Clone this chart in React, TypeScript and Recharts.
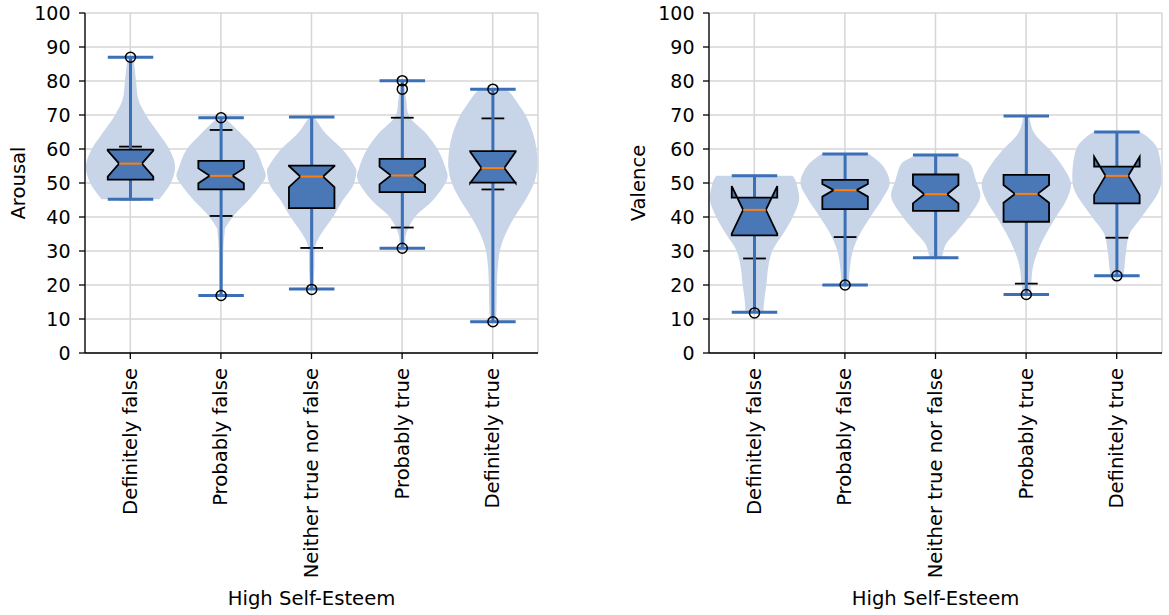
import React from 'react';
import { ComposedChart, Bar, XAxis, YAxis, CartesianGrid, Label } from 'recharts';

const categories = ['Definitely false', 'Probably false', 'Neither true nor false', 'Probably true', 'Definitely true'];
const yTicks = [0, 10, 20, 30, 40, 50, 60, 70, 80, 90, 100];

// Arousal panel
const arousalMin = [45.2, 16.9, 18.8, 30.8, 9.2];
const arousalMax = [87.0, 69.2, 69.4, 80.1, 77.6];
const arousalWhiskerLo = [45.2, 40.3, 30.9, 36.9, 48.1];
const arousalWhiskerHi = [60.7, 65.6, 69.4, 69.2, 69.0];
const arousalQ1 = [51.0, 48.1, 42.6, 47.3, 50.1];
const arousalQ3 = [59.8, 56.5, 55.1, 57.1, 59.4];
const arousalMedian = [55.7, 52.1, 51.9, 52.2, 54.4];
const arousalNotchLo = [51.9, 49.9, 48.8, 49.6, 50.0];
const arousalNotchHi = [59.5, 54.3, 55.0, 54.8, 59.2];
const arousalOutliers = [[87.0], [69.2, 16.9], [18.7], [80.1, 77.6, 30.8], [77.6, 9.2]];
// violin density: [value, relative density]
const arousalViolin = [
  [[87.0, 0.06], [84.2, 0.09], [79.3, 0.13], [74.4, 0.18], [69.5, 0.37], [64.6, 0.63], [59.7, 0.88], [54.8, 1.0], [49.9, 0.9], [45.2, 0.65]],
  [[69.2, 0.06], [68.5, 0.13], [64.6, 0.44], [59.7, 0.78], [54.8, 0.94], [51.9, 1.0], [48.9, 0.86], [45.0, 0.62], [41.1, 0.33], [37.1, 0.11], [35.2, 0.08], [30.0, 0.05], [16.9, 0.04]],
  [[69.4, 0.04], [68.5, 0.1], [64.6, 0.31], [59.7, 0.7], [55.0, 0.96], [53.0, 1.0], [49.0, 0.92], [45.0, 0.7], [40.1, 0.48], [35.2, 0.22], [31.2, 0.08], [25.0, 0.06], [18.8, 0.04]],
  [[80.1, 0.04], [77.6, 0.06], [74.4, 0.09], [69.5, 0.16], [64.6, 0.53], [59.7, 0.8], [54.8, 0.96], [50.9, 1.0], [45.0, 0.69], [40.1, 0.29], [35.2, 0.09], [30.8, 0.06]],
  [[77.6, 0.3], [76.0, 0.42], [73.0, 0.58], [69.5, 0.75], [64.6, 0.9], [59.7, 0.98], [54.8, 1.0], [49.9, 0.92], [45.0, 0.73], [40.1, 0.49], [35.2, 0.29], [30.3, 0.16], [25.4, 0.11], [20.5, 0.09], [12.7, 0.08], [9.2, 0.06]],
];

// Valence panel
const valenceMin = [12.0, 20.0, 28.0, 17.2, 22.7];
const valenceMax = [52.1, 58.5, 58.2, 69.7, 65.0];
const valenceWhiskerLo = [27.8, 34.1, 28.0, 20.4, 33.9];
const valenceWhiskerHi = [52.1, 58.5, 58.2, 69.7, 65.0];
const valenceQ1 = [34.6, 42.3, 41.8, 38.6, 44.0];
const valenceQ3 = [45.7, 50.9, 52.5, 52.4, 54.8];
const valenceMedian = [42.1, 47.9, 46.7, 46.8, 52.1];
const valenceNotchLo = [35.1, 46.0, 44.0, 44.2, 46.5];
const valenceNotchHi = [49.1, 49.7, 49.4, 49.4, 57.7];
const valenceOutliers = [[11.8], [20.0], [], [17.2], [22.7]];
const valenceViolin = [
  [[52.1, 0.86], [49.9, 0.94], [45.0, 1.0], [40.1, 0.86], [35.2, 0.65], [30.3, 0.41], [25.4, 0.31], [20.5, 0.27], [15.6, 0.22], [12.0, 0.2]],
  [[58.5, 0.54], [54.8, 0.86], [49.9, 1.0], [45.0, 0.82], [40.1, 0.57], [35.2, 0.34], [30.3, 0.18], [25.4, 0.11], [20.0, 0.08]],
  [[58.2, 0.4], [57.3, 0.58], [55.5, 0.78], [50.9, 0.9], [46.0, 1.0], [41.1, 0.8], [36.2, 0.5], [32.3, 0.24], [29.3, 0.16], [28.0, 0.14]],
  [[69.7, 0.06], [64.6, 0.18], [59.7, 0.53], [54.8, 0.82], [49.9, 1.0], [45.0, 0.9], [40.1, 0.67], [35.2, 0.45], [30.3, 0.27], [25.4, 0.15], [20.5, 0.11], [17.2, 0.08]],
  [[65.0, 0.52], [63.5, 0.69], [59.7, 0.92], [51.9, 1.0], [47.0, 0.92], [40.1, 0.56], [35.2, 0.29], [30.3, 0.21], [25.4, 0.17], [22.7, 0.15]],
];

const buildRows = (mins, maxs, wlo, whi, q1, q3, med, nlo, nhi, outs, violin) =>
  categories.map((name, i) => ({
    name,
    min: mins[i],
    max: maxs[i],
    whiskerLo: wlo[i],
    whiskerHi: whi[i],
    q1: q1[i],
    q3: q3[i],
    median: med[i],
    notchLo: nlo[i],
    notchHi: nhi[i],
    outliers: outs[i],
    violin: violin[i],
  }));

const arousalRows = buildRows(arousalMin, arousalMax, arousalWhiskerLo, arousalWhiskerHi, arousalQ1, arousalQ3,
  arousalMedian, arousalNotchLo, arousalNotchHi, arousalOutliers, arousalViolin);
const valenceRows = buildRows(valenceMin, valenceMax, valenceWhiskerLo, valenceWhiskerHi, valenceQ1, valenceQ3,
  valenceMedian, valenceNotchLo, valenceNotchHi, valenceOutliers, valenceViolin);

const FONT = 'DejaVu Sans';
const FS = 19.6;
const TICK_FS = 19;
const VIOLIN_FILL = '#c8d5e8';
const BOX_FILL = '#4a78b6';
const BAR_BLUE = '#3b6fb6';

// catmull-rom through points, as bezier segments
function smooth(pts: number[][]) {
  let d = '';
  for (let i = 0; i < pts.length - 1; i++) {
    const p0 = pts[i - 1] || pts[i];
    const p1 = pts[i];
    const p2 = pts[i + 1];
    const p3 = pts[i + 2] || p2;
    const c1x = p1[0] + (p2[0] - p0[0]) / 6;
    const c1y = p1[1] + (p2[1] - p0[1]) / 6;
    const c2x = p2[0] - (p3[0] - p1[0]) / 6;
    const c2y = p2[1] - (p3[1] - p1[1]) / 6;
    d += ` C${c1x},${c1y} ${c2x},${c2y} ${p2[0]},${p2[1]}`;
  }
  return d;
}

const ViolinBox = (props: any) => {
  const { x, y, width, height, payload } = props;
  if (!payload) return null;
  const top = Math.min(y, y + height);
  const span = Math.abs(height);
  const py = (v: number) => top + ((payload.max - v) / (payload.max - payload.min)) * span;
  const cx = x + width / 2;
  const bw = width;

  const right = payload.violin.map(([v, d]) => [cx + d * 0.49 * bw, py(v)]);
  const left = payload.violin.slice().reverse().map(([v, d]) => [cx - d * 0.49 * bw, py(v)]);
  const violinPath = `M${right[0][0]},${right[0][1]}` + smooth(right) + ` L${left[0][0]},${left[0][1]}` + smooth(left) + ' Z';

  const bl = cx - 0.25 * bw;
  const br = cx + 0.25 * bw;
  const nl = cx - 0.125 * bw;
  const nr = cx + 0.125 * bw;
  const boxPts = [
    [bl, payload.q1], [br, payload.q1], [br, payload.notchLo], [nr, payload.median], [br, payload.notchHi],
    [br, payload.q3], [bl, payload.q3], [bl, payload.notchHi], [nl, payload.median], [bl, payload.notchLo],
  ];
  const boxPath = boxPts.map(([px, v], i) => `${i ? 'L' : 'M'}${px},${py(v)}`).join(' ') + ' Z';

  return (
    <g>
      <path d={violinPath} fill={VIOLIN_FILL} stroke="none" />
      <line x1={cx} x2={cx} y1={py(payload.q3)} y2={py(payload.whiskerHi)} stroke="#000" strokeWidth={1.8} />
      <line x1={cx} x2={cx} y1={py(payload.q1)} y2={py(payload.whiskerLo)} stroke="#000" strokeWidth={1.8} />
      <line x1={nl} x2={nr} y1={py(payload.whiskerHi)} y2={py(payload.whiskerHi)} stroke="#000" strokeWidth={1.8} />
      <line x1={nl} x2={nr} y1={py(payload.whiskerLo)} y2={py(payload.whiskerLo)} stroke="#000" strokeWidth={1.8} />
      <line x1={cx} x2={cx} y1={py(payload.max)} y2={py(payload.min)} stroke={BAR_BLUE} strokeWidth={3} />
      <line x1={bl} x2={br} y1={py(payload.max)} y2={py(payload.max)} stroke={BAR_BLUE} strokeWidth={3} />
      <line x1={bl} x2={br} y1={py(payload.min)} y2={py(payload.min)} stroke={BAR_BLUE} strokeWidth={3} />
      <path d={boxPath} fill={BOX_FILL} stroke="#000" strokeWidth={1.8} strokeLinejoin="miter" />
      <line x1={nl} x2={nr} y1={py(payload.median)} y2={py(payload.median)} stroke="#ff7f0e" strokeWidth={2} />
      {payload.outliers.map((v: number, i: number) => (
        <circle key={i} cx={cx} cy={py(v)} r={5} fill="none" stroke="#000" strokeWidth={1.5} />
      ))}
    </g>
  );
};

const RotTick = ({ x, y, payload }: any) => (
  <text x={x} y={y} transform={`rotate(-90, ${x}, ${y})`} textAnchor="end" dominantBaseline="central"
    fontSize={FS} fill="#000" fontFamily={FONT}>
    {payload.value}
  </text>
);

const axisStyle = { stroke: '#000', strokeWidth: 1.3 };

function Panel({ rows, yLabel, width, yAxisWidth, labelOffset, marginRight }: any) {
  return (
    <ComposedChart width={width} height={615} data={rows} barCategoryGap={0}
      margin={{ top: 13, right: marginRight, bottom: 0, left: 0 }}>
      <CartesianGrid stroke="#d6d6d6" strokeWidth={1.5} />
      <XAxis dataKey="name" interval={0} tick={<RotTick />} tickSize={6} tickMargin={9} height={262}
        axisLine={axisStyle} tickLine={axisStyle}>
        <Label value="High Self-Esteem" position="insideBottom" offset={10}
          style={{ fontSize: FS, fill: '#000', fontFamily: FONT }} />
      </XAxis>
      <XAxis xAxisId="top" orientation="top" dataKey="name" height={0} tick={false} tickLine={false} axisLine={axisStyle} />
      <YAxis domain={[0, 100]} ticks={yTicks} interval={0} width={yAxisWidth} tickSize={6} tickMargin={8.5}
        axisLine={axisStyle} tickLine={axisStyle} tick={{ fill: '#000', fontSize: TICK_FS, fontFamily: FONT }}>
        <Label value={yLabel} angle={-90} position="insideLeft" offset={labelOffset}
          style={{ textAnchor: 'middle', fontSize: FS, fill: '#000', fontFamily: FONT }} />
      </YAxis>
      <YAxis yAxisId="right" orientation="right" domain={[0, 100]} width={0} tick={false} tickLine={false} axisLine={axisStyle} />
      <Bar dataKey={(d: any) => [d.min, d.max]} isAnimationActive={false}
        shape={(p: any) => <ViolinBox {...p} />} />
    </ComposedChart>
  );
}

export default function App() {
  return (
    <div style={{ position: 'absolute', left: 0, top: 0, width: 1169, height: 615, display: 'flex',
      background: '#fff', fontFamily: FONT }}>
      <Panel rows={arousalRows} yLabel="Arousal" width={560} yAxisWidth={85} labelOffset={18} marginRight={22} />
      <Panel rows={valenceRows} yLabel="Valence" width={609} yAxisWidth={149} labelOffset={78} marginRight={7} />
    </div>
  );
}
